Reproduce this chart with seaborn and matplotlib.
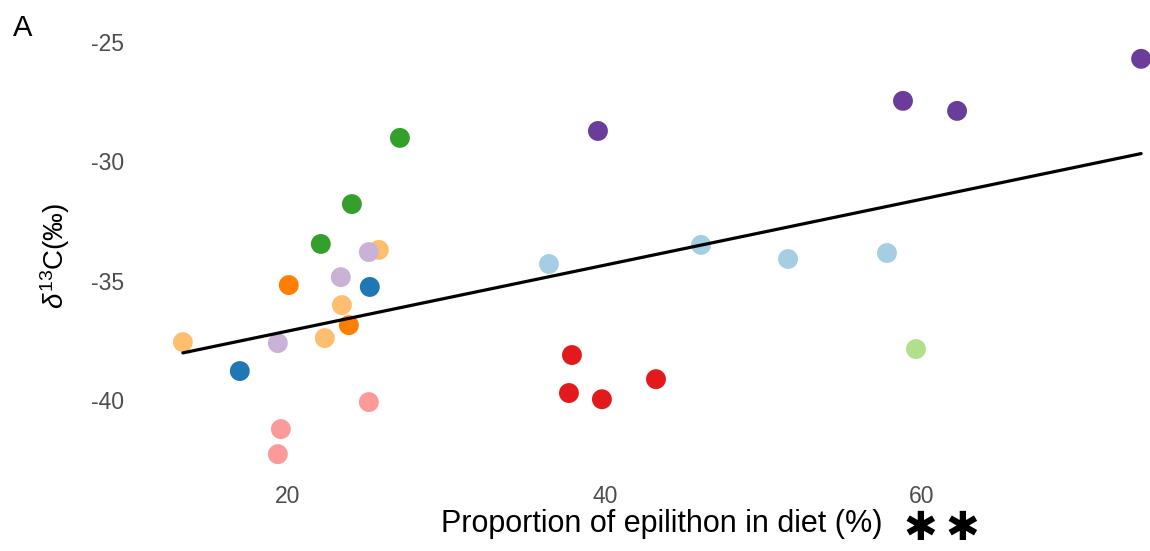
import matplotlib
matplotlib.use("Agg")
import matplotlib.pyplot as plt
import seaborn as sns
import pandas as pd

# Proportion of epilithon in diet (%) and d13C (permil), one row per sample
site = ["S07", "S09", "S02", "S07", "S08", "S07", "S02", "S09", "S08", "S04",
        "S07", "S09", "S05", "S05", "S05", "S04", "S04", "S10", "S10", "S10",
        "S10", "S01", "S01", "S01", "S01", "S03", "S06", "S06", "S06", "S06"]
epilithon = [13.38, 19.37, 16.97, 22.33, 23.85, 23.41, 25.17, 23.34, 20.06, 22.08,
             25.74, 25.11, 25.11, 19.56, 19.37, 24.04, 27.07, 39.56, 58.80, 62.21,
             73.82, 36.47, 46.06, 51.55, 57.79, 59.62, 37.92, 37.73, 39.81, 43.22]
d13c = [-37.57, -37.61, -38.78, -37.40, -36.86, -36.02, -35.26, -34.85, -35.18, -33.46,
        -33.71, -33.80, -40.08, -41.21, -42.26, -31.79, -29.02, -28.73, -27.47, -27.89,
        -25.71, -34.30, -33.50, -34.09, -33.84, -37.86, -38.11, -39.70, -39.96, -39.12]
site_order = ["S01", "S02", "S03", "S04", "S05", "S06", "S07", "S08", "S09", "S10"]
x_ticks = [20, 40, 60]
y_ticks = [-25, -30, -35, -40]

df = pd.DataFrame({"site": site, "epilithon": epilithon, "d13c": d13c})

sns.set_theme(style="white")
plt.rcParams["font.family"] = ["Liberation Sans", "DejaVu Sans"]
plt.rcParams["axes.unicode_minus"] = False
plt.rcParams["mathtext.fontset"] = "custom"
plt.rcParams["mathtext.rm"] = "Liberation Sans"
plt.rcParams["mathtext.it"] = "Liberation Sans:italic"

W, H = 1150, 551
fig = plt.figure(figsize=(W / 100, H / 100), dpi=100)
# panel spans 135..1189 px horizontally, 39..474 px vertically
ax = fig.add_axes([135 / W, (H - 474) / H, (1189 - 135) / W, (474 - 39) / H])

sns.scatterplot(data=df, x="epilithon", y="d13c", hue="site", hue_order=site_order,
                palette="Paired", s=205, linewidth=0, alpha=1, legend=False, ax=ax,
                zorder=2)
sns.regplot(data=df, x="epilithon", y="d13c", scatter=False, ci=None, ax=ax,
            line_kws={"color": "black", "linewidth": 2.3, "zorder": 3})

ax.set_xlim(10.36, 76.84)
ax.set_ylim(-43.09, -24.88)
ax.set_xticks(x_ticks)
ax.set_yticks(y_ticks)
ax.tick_params(axis="both", length=0, labelsize=16.5, labelcolor="#4D4D4D")
ax.tick_params(axis="x", pad=8)
ax.tick_params(axis="y", pad=8)
for s in ax.spines.values():
    s.set_visible(False)
ax.grid(False)

ax.set_xlabel("")
ax.set_ylabel("")
fig.text(662 / W, 1 - 524 / H, "Proportion of epilithon in diet (%)", fontsize=22,
         ha="center", va="center", color="black")
# significance marker after the axis title
for cx in (920, 962):
    fig.text(cx / W, 1 - 529 / H, "\u2731", fontsize=29, family="DejaVu Sans",
             ha="center", va="center", color="black")
fig.text(55 / W, 1 - 256 / H, r"$\delta^{13}$C(‰)", fontsize=20, rotation=90,
         ha="center", va="center", color="black")
fig.text(23 / W, 1 - 28 / H, "A", fontsize=21, ha="center", va="center", color="black")

fig.savefig("out.png", dpi=100)
